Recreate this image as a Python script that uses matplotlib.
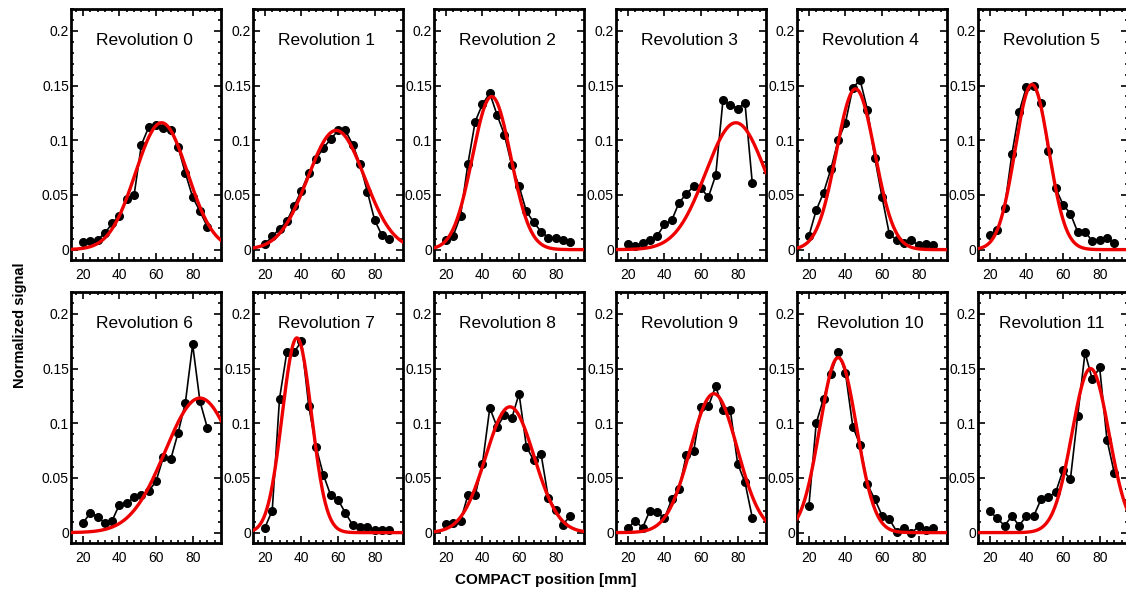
import numpy as np
import matplotlib
matplotlib.use("Agg")
import matplotlib.pyplot as plt
from matplotlib.ticker import MultipleLocator, FuncFormatter

plt.rcParams["font.family"] = ["Liberation Sans", "DejaVu Sans"]

# ==============================
# DATA
# ==============================

position = [20, 24, 28, 32, 36, 40, 44, 48, 52, 56, 60, 64, 68, 72, 76, 80, 84, 88]

rev0 = [0.007, 0.0077, 0.009, 0.015, 0.024, 0.031, 0.046, 0.050, 0.096, 0.112,
        0.114, 0.111, 0.109, 0.094, 0.070, 0.048, 0.035, 0.021]
rev1 = [0.005, 0.012, 0.019, 0.026, 0.040, 0.054, 0.070, 0.083, 0.093, 0.101,
        0.109, 0.109, 0.096, 0.078, 0.053, 0.027, 0.013, 0.010]
rev2 = [0.009, 0.0126, 0.031, 0.078, 0.117, 0.133, 0.143, 0.123, 0.105, 0.077,
        0.058, 0.035, 0.025, 0.0165, 0.011, 0.0104, 0.009, 0.007]
rev3 = [0.005, 0.0034, 0.006, 0.009, 0.0126, 0.023, 0.027, 0.043, 0.051, 0.058,
        0.056, 0.048, 0.068, 0.137, 0.132, 0.129, 0.134, 0.061]
rev4 = [0.0126, 0.036, 0.052, 0.0735, 0.100, 0.116, 0.148, 0.155, 0.128, 0.084,
        0.048, 0.014, 0.009, 0.0064, 0.0086, 0.004, 0.005, 0.0046]
rev5 = [0.0135, 0.018, 0.038, 0.087, 0.126, 0.149, 0.150, 0.134, 0.090, 0.056,
        0.041, 0.033, 0.016, 0.0165, 0.0077, 0.009, 0.0104, 0.006]
rev6 = [0.0086, 0.018, 0.0147, 0.0086, 0.011, 0.0257, 0.027, 0.0325, 0.0346, 0.038,
        0.047, 0.069, 0.067, 0.091, 0.1185, 0.172, 0.120, 0.096]
rev7 = [0.0046, 0.020, 0.1225, 0.165, 0.165, 0.175, 0.1155, 0.078, 0.0527, 0.034,
        0.030, 0.018, 0.007, 0.005, 0.005, 0.002, 0.002, 0.0025]
rev8 = [0.0077, 0.009, 0.0107, 0.034, 0.034, 0.063, 0.114, 0.0965, 0.1075, 0.1045,
        0.127, 0.0787, 0.066, 0.072, 0.032, 0.021, 0.0074, 0.0153]
rev9 = [0.004, 0.011, 0.0043, 0.020, 0.019, 0.013, 0.0306, 0.040, 0.0714, 0.075,
        0.115, 0.1155, 0.134, 0.112, 0.112, 0.063, 0.046, 0.0138]
rev10 = [0.0245, 0.100, 0.1225, 0.145, 0.165, 0.146, 0.097, 0.080, 0.044, 0.0306,
         0.0156, 0.0122, 0.001, 0.0046, -0.0006, 0.0058, 0.0025, 0.004]
rev11 = [0.0196, 0.013, 0.0064, 0.015, 0.0064, 0.0153, 0.0153, 0.0306, 0.0325, 0.037,
         0.057, 0.0487, 0.107, 0.1645, 0.140, 0.151, 0.085, 0.0545]

signals = [rev0, rev1, rev2, rev3, rev4, rev5, rev6, rev7, rev8, rev9, rev10, rev11]
titles = ["Revolution %d" % i for i in range(12)]

# gaussian fit parameters (amplitude, centre, sigma)
fit_amp = [0.116, 0.109, 0.140, 0.116, 0.147, 0.151, 0.123, 0.178, 0.115, 0.127, 0.160, 0.150]
fit_mu = [63, 59, 45, 79, 45.5, 43, 84, 37.5, 55, 67, 36, 75]
fit_sigma = [14.2, 15.5, 10.5, 16.5, 10.5, 9.2, 19, 8, 13.2, 12.8, 10, 10.1]

# ==============================
# LAYOUT
# ==============================

W, H = 1126, 592
fig = plt.figure(figsize=(W / 100, H / 100), dpi=100)

col_left = [71, 253, 434, 616, 797, 978]
row_top = [9, 292]
ax_w, ax_h = 150, 251

xfine = np.linspace(13.5, 95.5, 300)

for i in range(12):
    r, c = divmod(i, 6)
    left = col_left[c] / W
    bottom = 1 - (row_top[r] + ax_h) / H
    ax = fig.add_axes([left, bottom, ax_w / W, ax_h / H])

    fit = fit_amp[i] * np.exp(-(xfine - fit_mu[i]) ** 2 / (2 * fit_sigma[i] ** 2))
    ax.plot(position, signals[i], color="black", lw=1.2, marker="o", ms=5.5, zorder=2)
    ax.plot(xfine, fit, color="#ee0000", lw=2.4, zorder=3)

    ax.set_xlim(13.5, 95.5)
    ax.set_ylim(-0.0095, 0.22)
    ax.xaxis.set_major_locator(MultipleLocator(20))
    ax.xaxis.set_minor_locator(MultipleLocator(4))
    ax.yaxis.set_major_locator(MultipleLocator(0.05))
    ax.yaxis.set_minor_locator(MultipleLocator(0.01))
    ax.yaxis.set_major_formatter(FuncFormatter(lambda v, p: "%g" % round(v, 3)))
    ax.tick_params(which="both", direction="in", top=True, right=True, labelsize=10,
                   width=1.2)
    ax.tick_params(axis="y", pad=1.5)
    ax.tick_params(axis="x", pad=6)
    ax.tick_params(which="major", length=5)
    ax.tick_params(which="minor", length=2.5)
    for s in ax.spines.values():
        s.set_linewidth(2)

    ax.text(0.49, 0.875, titles[i], transform=ax.transAxes, ha="center", va="center",
            fontsize=12.5)

fig.text(20 / W, 1 - 325 / H, "Normalized signal", rotation=90, ha="center", va="center",
         fontsize=10.5, fontweight="bold")
fig.text(546 / W, 1 - 580 / H, "COMPACT position [mm]", ha="center", va="center",
         fontsize=11, fontweight="bold")

plt.savefig("out.png", dpi=100)
